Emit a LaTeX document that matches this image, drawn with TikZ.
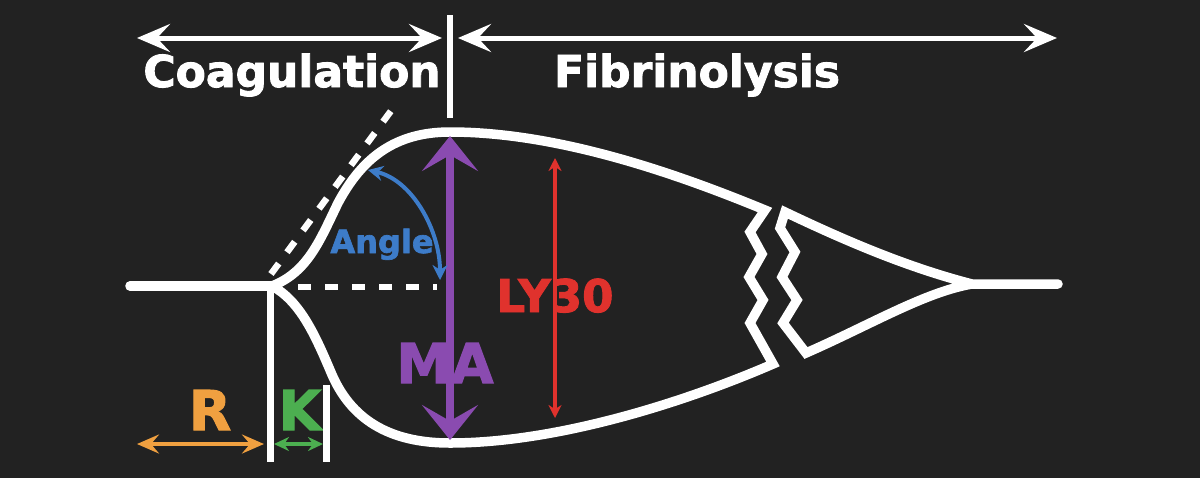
\documentclass[tikz,border=0pt]{standalone}
\usepackage{fontspec}
\setmainfont{DejaVu Sans}[BoldFeatures={FakeBold=2}]
\usetikzlibrary{arrows.meta}
\definecolor{bgc}{HTML}{222222}
\definecolor{rcol}{HTML}{F0A040}
\definecolor{kcol}{HTML}{4CAF50}
\definecolor{macol}{HTML}{8A4BB0}
\definecolor{angcol}{HTML}{3D7CC9}
\definecolor{lycol}{HTML}{E0322D}
\newcommand{\PhaseF}{\fontsize{12.5}{14}\selectfont\bfseries}
\newcommand{\BigF}{\fontsize{15.6}{18}\selectfont\bfseries}
\newcommand{\MidF}{\fontsize{12.8}{15}\selectfont\bfseries}
\newcommand{\SmallF}{\fontsize{9.1}{11}\selectfont\bfseries}

\begin{document}
\begin{tikzpicture}[x=0.01cm, y=-0.01cm,
  trace/.style={white, line width=0.95mm, line join=round, line cap=round},
  guide/.style={white, line width=0.65mm, dash pattern=on 1.3mm off 1.4mm},
  phase/.style={white, line width=0.5mm,
    {Stealth[length=3.3mm, width=2.8mm, inset=1.3mm]}-{Stealth[length=3.3mm, width=2.8mm, inset=1.3mm]}},
  marker/.style={white, line width=0.7mm}]
  \fill[bgc] (0,0) rectangle (1200,478);

  \coordinate (coagL) at (137,38);  \coordinate (coagR) at (442,38);
  \coordinate (fibL) at (458,38);   \coordinate (fibR) at (1057,38);
  \coordinate (divT) at (450,15);   \coordinate (divB) at (450,118);
  \coordinate (maT) at (450,136);   \coordinate (maB) at (450,440);
  \coordinate (lyT) at (555,158);   \coordinate (lyB) at (555,418);
  \coordinate (angA) at (368,170);  \coordinate (angB) at (440,280);
  \coordinate (rL) at (137,444);    \coordinate (rR) at (264,444);
  \coordinate (kL) at (274,444);    \coordinate (kR) at (323,444);
  \coordinate (onset) at (270,287); \coordinate (onsetB) at (270,462);
  \coordinate (kEnd) at (326,385);  \coordinate (kEndB) at (326,462);
  \coordinate (tanA) at (271,274);  \coordinate (tanB) at (399,100);
  \coordinate (baseA) at (298,287); \coordinate (baseB) at (437,287);

  \node[white, anchor=base] (coag) at (292,87) {\PhaseF Coagulation};
  \node[white, anchor=base] (fib) at (697,87) {\PhaseF Fibrinolysis};
  \node[angcol, anchor=base] (anglbl) at (382,253) {\SmallF Angle};
  \node[lycol, anchor=base] (lylbl) at (555,312) {\MidF LY30};
  \node[macol, anchor=base] (malbl) at (445,383) {\BigF MA};
  \node[rcol, anchor=base] (rlbl) at (210,430) {\BigF R};
  \node[kcol, anchor=base] (klbl) at (300,430) {\BigF K};

  \draw[phase] (coagL) -- (coagR);
  \draw[phase] (fibL) -- (fibR);
  \draw[white, line width=0.65mm] (divT) -- (divB);

  \draw[trace] (130,286) -- (272,286);
  \draw[trace] (272,286) .. controls (308,272) and (320,240) .. (338,203)
    .. controls (362,158) and (395,132) .. (450,132)
    .. controls (560,132) and (680,175) .. (765,210)
    [line join=miter] -- (750,232) -- (762,254) -- (749,277) -- (763,300) -- (750,323) -- (773,364)
    .. controls (690,400) and (560,443) .. (450,443)
    .. controls (390,443) and (350,420) .. (330,370)
    .. controls (315,335) and (300,301) .. (272,286);
  \draw[trace, line join=miter] (1058,284) -- (972,284)
    .. controls (910,268) and (850,243) .. (785,212)
    -- (780,228) -- (795,252) -- (782,277) -- (797,300) -- (783,323) -- (806,353)
    .. controls (870,325) and (925,292) .. (972,284);

  \draw[guide] (tanA) -- (tanB);
  \draw[guide] (baseA) -- (baseB);
  \draw[marker] (onset) -- (onsetB);
  \draw[marker] (kEnd) -- (kEndB);

  \draw[macol, line width=0.8mm,
    {Stealth[length=3.5mm, width=5.6mm, inset=1.6mm]}-{Stealth[length=3.5mm, width=5.6mm, inset=1.6mm]}]
    (maT) -- (maB);
  \draw[lycol, line width=0.4mm, {Stealth[length=1.3mm, width=1.3mm]}-{Stealth[length=1.3mm, width=1.3mm]}]
    (lyT) -- (lyB);
  \draw[angcol, line width=0.4mm, {Stealth[length=1.5mm, width=1.5mm]}-{Stealth[length=1.5mm, width=1.5mm]}]
    (angA) .. controls (412,180) and (440,230) .. (angB);
  \draw[rcol, line width=0.45mm,
    {Stealth[length=2.2mm, width=1.9mm, inset=0.8mm]}-{Stealth[length=2.2mm, width=1.9mm, inset=0.8mm]}]
    (rL) -- (rR);
  \draw[kcol, line width=0.4mm, {Stealth[length=1.5mm, width=1.4mm]}-{Stealth[length=1.5mm, width=1.4mm]}]
    (kL) -- (kR);
\end{tikzpicture}
\end{document}
